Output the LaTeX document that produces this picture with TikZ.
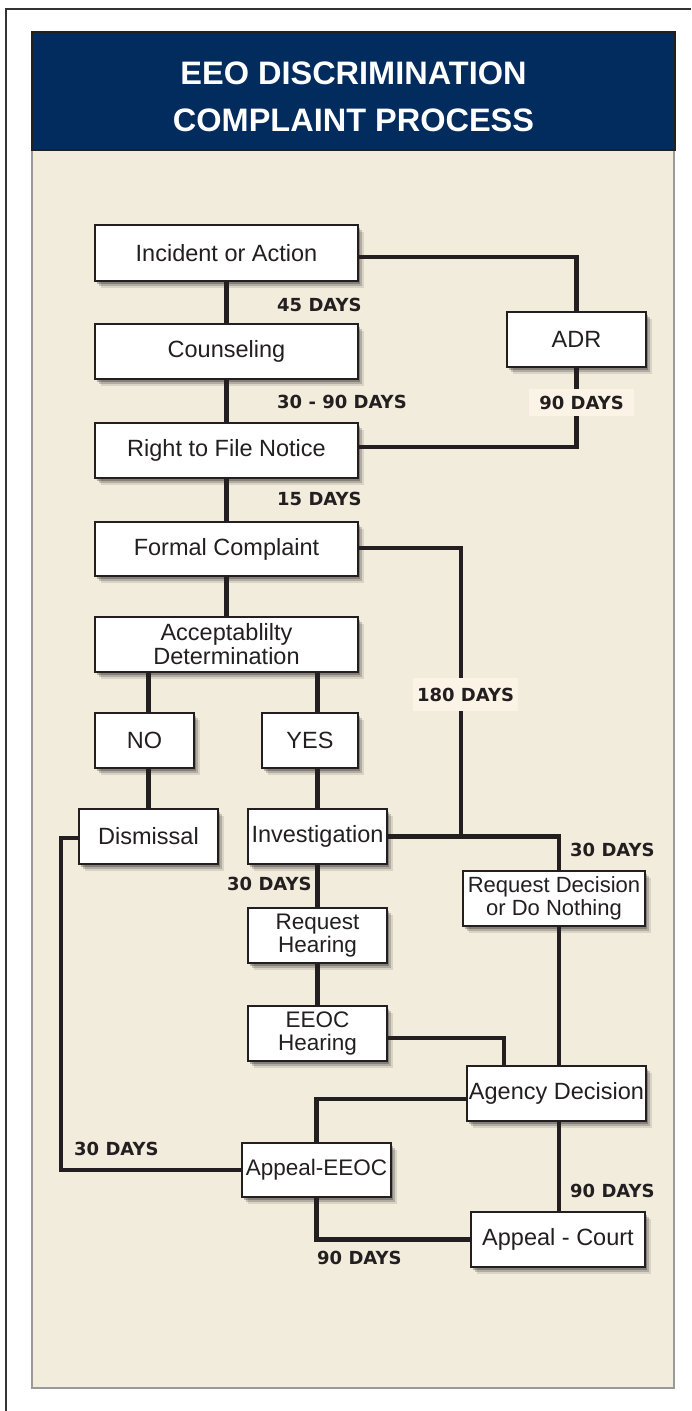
\documentclass[tikz,border=0pt]{standalone}
\usepackage{fontspec}
\setmainfont{Liberation Sans}
\newfontfamily\daysfont{DejaVu Sans}
\usetikzlibrary{shadows,calc}
\definecolor{navy}{HTML}{022B5E}
\definecolor{beige}{HTML}{F2ECDC}
\definecolor{ink}{HTML}{231F20}
\definecolor{labbg}{HTML}{FBF4E6}
\definecolor{panelgray}{HTML}{9A9A9A}
\begin{document}
\begin{tikzpicture}[x=1pt,y=-1pt,
  box/.style={draw=ink, line width=2.5pt, fill=white, inner sep=0pt, align=center,
    text=ink, font=\fontsize{23.5}{24}\selectfont,
    drop shadow={shadow xshift=6pt, shadow yshift=-7pt, opacity=.10, fill=black},
    drop shadow={shadow xshift=4pt, shadow yshift=-5pt, opacity=.18, fill=black},
    drop shadow={shadow xshift=2pt, shadow yshift=-3pt, opacity=.25, fill=black}},
  conn/.style={draw=ink, line width=4.5pt},
  days/.style={font=\daysfont\bfseries\fontsize{18}{18}\selectfont, text=ink, inner sep=0pt, anchor=west},
  daysbg/.style={days, fill=labbg, anchor=center, minimum width=105pt},
  title/.style={font=\bfseries\fontsize{32.5}{33}\selectfont, text=white, inner sep=0pt}]
\useasboundingbox (0,0) rectangle (691,1411);
\fill[white] (0,0) rectangle (691,1411);
% outer frame
\draw[line width=2pt, draw=black!80] (6,1411) -- (6,9) -- (691,9);
% panel
\draw[line width=2.5pt, draw=panelgray, fill=beige] (32,150) rectangle (674,1388);
\draw[line width=2pt, draw=ink, fill=navy] (32,32) rectangle (675,150);
\node[title] (t1) at (353.5,73) {EEO DISCRIMINATION};
\node[title] (t2) at (353.5,120) {COMPLAINT PROCESS};

% boxes
\node[box, minimum width=263pt, minimum height=56pt] (inc) at (226.5,253) {Incident or Action};
\node[box, minimum width=263pt, minimum height=55pt] (cou) at (226.5,351.5) {Counseling};
\node[box, minimum width=139pt, minimum height=55pt] (adr) at (576.5,339.5) {ADR};
\node[box, minimum width=263pt, minimum height=55pt] (rtf) at (226.5,450.5) {Right to File Notice};
\node[box, minimum width=263pt, minimum height=54pt] (fc) at (226.5,549) {Formal Complaint};
\node[box, minimum width=263pt, minimum height=55pt] (acc) at (226.5,644.5) {Acceptablilty\\Determination};
\node[box, minimum width=99pt, minimum height=55pt] (no) at (144.5,740.5) {NO};
\node[box, minimum width=96pt, minimum height=55pt] (yes) at (310,740.5) {YES};
\node[box, minimum width=139pt, minimum height=55pt] (dis) at (148.5,836.5) {Dismissal};
\node[box, minimum width=139pt, minimum height=55pt] (inv) at (317.5,836.5) {Investigation};
\node[box, minimum width=139pt, minimum height=55pt, font=\fontsize{22.5}{23}\selectfont] (rh) at (317.5,935.5) {Request\\Hearing};
\node[box, minimum width=139pt, minimum height=55pt, font=\fontsize{22.5}{23}\selectfont] (eh) at (317.5,1033.5) {EEOC\\Hearing};
\node[box, minimum width=182pt, minimum height=55pt, font=\fontsize{22}{23}\selectfont] (rd) at (554,898.5) {Request Decision\\or Do Nothing};
\node[box, minimum width=179pt, minimum height=55pt] (ad) at (556.5,1093.5) {Agency Decision};
\node[box, minimum width=149pt, minimum height=54pt, font=\fontsize{22.5}{23}\selectfont] (ae) at (316.5,1170) {Appeal-EEOC};
\node[box, minimum width=174pt, minimum height=55pt] (ac) at (558,1239.5) {Appeal - Court};

% connectors
\draw[conn] (inc) -- (cou);
\draw[conn] (cou) -- (rtf);
\draw[conn] (rtf) -- (fc);
\draw[conn] (fc) -- (acc);
\draw[conn] ([yshift=-4pt]inc.east) -| (adr.north);
\draw[conn] (adr.south) |- ([yshift=3.5pt]rtf.east);
\coordinate (j1) at (461,837);
\draw[conn] ([yshift=1pt]fc.east) -| (j1);
\draw[conn] (inv.east) -| ([xshift=5pt]rd.north);
\draw[conn] (acc.south -| dis.north) -- (no.north -| dis.north);
\draw[conn] (no.south -| dis.north) -- (dis.north);
\draw[conn] (acc.south -| inv.north) -- (yes.north -| inv.north);
\draw[conn] (yes.south -| inv.north) -- (inv.north);
\draw[conn] (inv) -- (rh);
\draw[conn] (rh) -- (eh);
\draw[conn] ([yshift=-4.5pt]eh.east) -| ([xshift=-52.5pt]ad.north);
\draw[conn] ([xshift=5pt]rd.south) -- ([xshift=5pt]rd.south |- ad.north);
\draw[conn] ([yshift=-5.5pt]ad.west) -| (ae.north);
\draw[conn] ([yshift=-1.5pt]dis.west) -- ++(-17,0) |- (ae.west);
\draw[conn] (ae.south) |- (ac.west);
\draw[conn] ([xshift=2.5pt]ad.south) -- ([xshift=2.5pt]ad.south |- ac.north);

% labels
\node[days] (l45) at (277,305) {45 DAYS};
\node[days] (l3090) at (277,402) {30 - 90 DAYS};
\node[days] (l15) at (277,499) {15 DAYS};
\node[daysbg, minimum height=27pt] (l90a) at (581.5,402.5) {90 DAYS};
\node[daysbg, minimum height=33pt] (l180) at (465.5,694.5) {180 DAYS};
\node[days] (l30r) at (570,850) {30 DAYS};
\node[days] (l30i) at (227,884) {30 DAYS};
\node[days] (l30d) at (74,1149) {30 DAYS};
\node[days] (l90r) at (570,1191) {90 DAYS};
\node[days] (l90b) at (317,1258) {90 DAYS};
\end{tikzpicture}
\end{document}
